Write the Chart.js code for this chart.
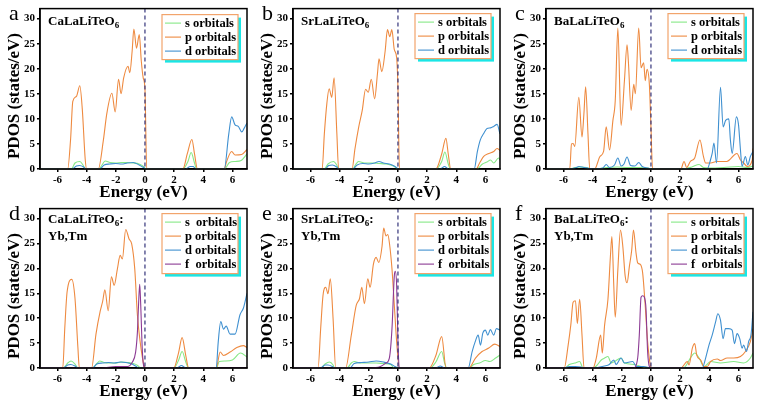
<!DOCTYPE html>
<html>
<head>
<meta charset="utf-8">
<script src="https://cdn.jsdelivr.net/npm/chart.js@4/dist/chart.umd.min.js"></script>
<style>
  body { margin: 0; background: #fff; }
  #wrap { position: relative; width: 759px; height: 405px; overflow: hidden; background: #fff; }
  canvas { position: absolute; }
</style>
</head>
<body>
<div id="wrap">
  <canvas id="pa" width="253" height="205" style="left:0;top:0"></canvas>
  <canvas id="pb" width="253" height="205" style="left:253px;top:0"></canvas>
  <canvas id="pc" width="253" height="205" style="left:506px;top:0"></canvas>
  <canvas id="pd" width="253" height="205" style="left:0;top:200px"></canvas>
  <canvas id="pe" width="253" height="205" style="left:253px;top:200px"></canvas>
  <canvas id="pf" width="253" height="205" style="left:506px;top:200px"></canvas>
</div>
<script>
// axis ticks
const energyTicks = [-6, -4, -2, 0, 2, 4, 6];
const pdosTicks = [0, 5, 10, 15, 20, 25, 30];

// (a) CaLaLiTeO6
const aSx = [-7.2,-5.05,-4.8,-4.47,-4.25,-4.1,-3.15,-2.95,-2.73,-2.4,-2.0,-1.6,-1.2,-0.8,-0.4,-0.1,0.05,2.6,2.95,3.17,3.4,3.55,5.45,5.8,6.2,6.6,7.0];
const aSy = [0,0,1.2,1.5,0.8,0,0,0.8,1.6,1.3,1.2,1.3,1.3,1.2,1.0,0.5,0,0,1.5,3.3,1.2,0,0,1.3,1.5,1.7,3.0];
const aPx = [-7.2,-5.3,-5.1,-4.95,-4.7,-4.47,-4.3,-4.1,-4.0,-3.2,-2.85,-2.62,-2.27,-2.04,-1.81,-1.64,-1.46,-1.16,-1.04,-0.88,-0.76,-0.58,-0.39,-0.25,-0.12,0,0.12,2.6,2.9,3.22,3.4,3.6,5.44,5.6,5.95,6.18,6.64,7.0];
const aPy = [0,0,6,13.5,14.5,16.6,12,2,0,0,5.8,11,15.1,11.4,17.9,15,18.2,20.5,19.2,23.5,27.9,24.1,26.8,21.5,18.2,16,0,0,3,5.9,3,0,0,1.5,3.5,2.8,2.9,3.9];
const aDx = [-7.2,-5.0,-4.7,-4.5,-4.2,-4.05,-3.1,-2.8,-2.4,-2.0,-1.6,-1.2,-0.8,-0.4,-0.1,0.05,2.8,3.1,3.3,3.5,5.44,5.75,5.95,6.18,6.4,6.64,6.8,7.0];
const aDy = [0,0,0.6,0.7,0.4,0,0,0.8,1.0,1.1,1.0,1.2,1.3,0.8,0.3,0,0,0.5,0.5,0,0,7,10.4,8.8,8.5,7.4,8.1,9.2];

// (b) SrLaLiTeO6
const bSx = [-7.2,-5.05,-4.8,-4.42,-4.2,-4.07,-3.1,-2.9,-2.7,-2.3,-1.8,-1.3,-0.8,-0.3,0.0,2.6,3.0,3.22,3.45,3.6,5.4,5.8,6.11,6.35,6.57,6.9,7.0];
const bSy = [0,0,1.0,1.5,0.8,0,0,0.9,1.5,1.2,1.2,1.1,1.0,0.6,0,0,1.5,3.4,1.0,0,0,1.0,1.4,1.8,1.2,2.2,1.8];
const bPx = [-7.2,-5.2,-5.05,-4.88,-4.72,-4.54,-4.38,-4.19,-4.07,-3.15,-2.95,-2.69,-2.45,-2.22,-2.04,-1.83,-1.6,-1.41,-1.3,-1.11,-0.88,-0.72,-0.56,-0.42,-0.25,-0.09,0.0,0.1,2.6,3.0,3.29,3.45,3.62,5.37,5.6,5.88,6.23,6.57,6.8,7.0];
const bPy = [0,0,7,13,16,14.3,18.2,7,0,0,4,8.4,11.7,15.9,15.3,17.9,14,18.9,22,19.4,23.5,27.8,26.4,27.8,23.8,22.2,16,0,0,3,6.1,3,0,0,1.2,2.5,3.1,3.5,4.1,3.7];
const bDx = [-7.2,-5.0,-4.75,-4.5,-4.2,-4.05,-3.1,-2.8,-2.4,-2.0,-1.6,-1.3,-1.0,-0.6,-0.2,0.05,2.9,3.2,3.45,5.23,5.45,5.65,5.88,6.11,6.35,6.57,6.8,7.0];
const bDy = [0,0,0.7,0.8,0.4,0,0,0.8,1.1,1.0,1.2,1.5,1.2,1.0,0.5,0,0,0.5,0,0,3.5,5.8,7.1,8.1,8.2,8.5,8.9,7.0];

// (c) BaLaLiTeO6
const cSx = [-7.2,-5.6,-5.2,-4.9,-4.4,-4.2,-3.9,-3.0,-2.3,-1.6,-0.8,-0.2,0.05,2.1,2.8,3.3,3.6,4.0,5.0,6.0,6.6,7.0];
const cSy = [0,0,0.3,0.4,0.3,0,0,0.3,0.4,0.3,0.3,0.2,0,0,0.4,0.9,0.3,0.2,0.3,0.5,0.3,0.6];
const cPx = [-7.2,-5.57,-5.45,-5.34,-5.23,-4.95,-4.73,-4.6,-4.48,-4.32,-4.2,-3.86,-3.5,-3.25,-3.07,-2.84,-2.61,-2.45,-2.27,-2.05,-1.82,-1.64,-1.55,-1.36,-1.18,-1.07,-0.84,-0.68,-0.5,-0.39,-0.27,-0.11,0,0.11,2.05,2.27,2.45,2.7,3.0,3.36,3.6,3.75,4.1,4.5,5.2,5.9,6.14,6.36,6.6,6.95,7.0];
const cPy = [0,0,5,5.1,4.5,14.3,6.4,11,16.4,7,0,0,2.5,3.5,8.4,3.8,9.7,13.6,28.1,8.7,17.6,24.8,21.5,11.7,16.9,15,28.1,20.2,21.2,17.6,19.9,16.9,8.4,0,0,1.5,0.3,1.5,2.2,5.8,2.5,1.2,1.2,1.5,1.5,3.1,1.8,1.2,0.5,1.8,4.1];
const cDx = [-7.2,-5.55,-5.1,-4.95,-4.6,-4.2,-3.9,-3.3,-3.07,-2.85,-2.5,-2.27,-2.05,-1.85,-1.64,-1.4,-1.1,-0.84,-0.6,-0.2,0.05,3.2,3.86,4.1,4.2,4.32,4.5,4.77,4.95,5.12,5.34,5.45,5.57,5.86,6.0,6.14,6.25,6.48,6.64,6.82,7.0];
const cDy = [0,0,0.3,0.5,0.3,0.1,0,0.2,0.9,0.3,0.8,2.2,0.6,1.0,2.4,0.7,0.6,1.3,0.5,0.2,0,0,0,2.0,3.1,5.2,1.2,16.3,8.4,9.7,10,5.8,3.1,10.4,9,3.8,0.5,2.5,0.8,2.5,3.5];

// (d) CaLaLiTeO6:Yb,Tm
const dSx = [-7.2,-5.6,-5.3,-5.07,-4.8,-4.6,-3.6,-3.3,-3.1,-2.8,-2.4,-2.0,-1.6,-1.2,-0.8,-0.5,-0.3,1.98,2.3,2.55,2.8,3.0,4.9,5.1,5.5,6.0,6.55,7.0];
const dSy = [0,0,1.0,1.4,0.8,0,0,0.9,1.4,1.1,1.0,1.0,1.2,1.1,0.9,0.5,0,0,1.5,3.3,1.2,0,0,1.3,1.4,1.6,3.0,2.2];
const dPx = [-7.2,-5.64,-5.5,-5.34,-5.02,-4.8,-4.6,-4.5,-3.66,-3.36,-3.07,-2.9,-2.75,-2.52,-2.3,-2.11,-1.89,-1.7,-1.55,-1.32,-1.09,-0.91,-0.7,-0.52,-0.34,-0.18,-0.07,0.05,1.98,2.3,2.55,2.8,3.0,4.89,5.16,5.39,5.84,6.3,6.75,7.0];
const dPy = [0,0,8,15.3,17.8,14,4.1,0,0,6.8,11.4,13.4,15.7,11.5,18.3,16.6,19.9,22.6,21.9,27.8,25.9,24.9,19.9,10.7,5.5,2.2,0.5,0,0,3,6.1,2.5,0,0,3.2,2.5,3.2,4.1,4.5,4.1];
const dDx = [-7.2,-5.6,-5.3,-5.1,-4.8,-4.6,-3.6,-3.3,-2.9,-2.5,-2.1,-1.7,-1.3,-0.9,-0.6,-0.4,2.2,2.5,2.8,4.89,5.02,5.2,5.39,5.57,5.84,6.18,6.52,6.75,7.0];
const dDy = [0,0,0.6,0.7,0.4,0,0,0.8,1.0,1.1,1.0,1.2,1.1,0.8,0.3,0,0,0.5,0,0,5,9.3,7.8,8.4,6.8,6.8,10.7,12,15];
const dFx = [-7.2,-3.0,-2.0,-1.2,-0.86,-0.64,-0.52,-0.45,-0.36,-0.3,-0.18,-0.07,0.05,7.0];
const dFy = [0,0,0.3,0.3,1.2,3.2,7.1,12,16.8,13.4,3.5,0.2,0,0];

// (e) SrLaLiTeO6:Yb,Tm
const eSx = [-7.2,-5.3,-5.0,-4.7,-4.45,-4.35,-3.5,-3.2,-3.0,-2.6,-2.0,-1.5,-1.0,-0.5,-0.25,2.2,2.6,3.0,3.2,3.35,4.9,5.2,5.6,6.0,6.3,6.7,7.0];
const eSy = [0,0,0.8,1.2,0.6,0,0,1.0,1.3,1.0,1.0,1.0,0.9,0.7,0,0,1.2,3.3,1.0,0,0,0.7,1.0,1.5,1.3,2.0,2.6];
const ePx = [-7.2,-5.48,-5.3,-5.14,-4.95,-4.8,-4.64,-4.45,-4.27,-3.59,-3.2,-2.86,-2.64,-2.48,-2.3,-2.07,-1.91,-1.68,-1.5,-1.32,-1.09,-0.98,-0.82,-0.7,-0.59,-0.41,-0.25,-0.09,0.09,2.14,2.6,3.0,3.3,4.86,5.32,5.77,6.23,6.64,7.0];
const ePy = [0,0,8,14.6,16.2,14.9,17.9,9.9,0,0,6.6,12.6,13.9,16.2,12.9,17.9,16.2,20.9,22.2,21.2,24.5,28.1,26.5,26.8,25.2,19.9,12.6,5.3,0,0,2.5,6.3,0,0,2.0,3.3,4.0,4.8,4.3];
const eDx = [-7.2,-5.3,-5.0,-4.8,-4.5,-4.35,-3.3,-3.0,-2.5,-2.0,-1.5,-1.0,-0.5,-0.2,0.05,2.6,2.9,3.2,4.82,5.09,5.3,5.5,5.66,5.82,6.0,6.16,6.34,6.57,6.75,7.0];
const eDy = [0,0,0.6,0.6,0.3,0,0,0.9,1.1,1.2,1.4,1.2,0.8,0.3,0,0,0.4,0,0,3.3,5.3,6.6,4.6,7.0,7.6,6.6,7.7,6.6,7.9,7.6];
const eFx = [-7.2,-2.0,-1.2,-0.82,-0.59,-0.41,-0.25,-0.18,-0.09,0.0,0.09,7.0];
const eFy = [0,0,0.3,1.0,2.0,7.9,18.5,19.4,16.6,5.3,0,0];

// (f) BaLaLiTeO6:Yb,Tm
const fSx = [-7.2,-5.9,-5.6,-5.23,-4.89,-4.66,-4.0,-3.75,-3.41,-3.18,-2.95,-2.73,-2.5,-2.05,-1.82,-1.14,-0.68,-0.3,2.2,2.84,3.0,3.3,3.64,4.09,4.77,5.68,6.36,6.82,7.0];
const fSy = [0,0,0.7,1.0,1.3,0,0,0.4,1.6,2.0,2.3,1.0,1.3,2.0,1.0,0.7,0.3,0,0,2.6,3.0,2.0,0.3,1.3,1.0,1.3,1.0,2.0,3.0];
const fPx = [-7.2,-5.95,-5.68,-5.5,-5.34,-5.18,-5.05,-4.89,-4.73,-4.59,-3.98,-3.75,-3.45,-3.34,-3.18,-2.95,-2.77,-2.68,-2.55,-2.45,-2.27,-2.09,-1.93,-1.77,-1.64,-1.48,-1.32,-1.2,-1.02,-0.91,-0.73,-0.57,-0.41,-0.23,-0.05,0.05,2.05,2.5,2.61,2.84,3.0,3.14,3.41,3.64,3.86,4.09,4.55,4.77,5.23,5.68,6.14,6.48,6.82,7.0];
const fPy = [0,0,4.6,8.6,13.2,13.5,8.9,13.8,6.6,0,0,2.0,6.6,3.0,8.6,13.8,23,26.4,16.5,10.2,19.8,27.7,24.4,18.5,17.1,20.4,23.7,27.7,23,21.1,20.8,19.1,13.2,5.3,0.7,0,0,1.3,0.6,4.0,4.9,2.6,1.6,0.3,0.3,1.3,1.8,1.5,2.0,2.0,2.3,3.3,5.3,7.9];
const fDx = [-7.2,-6.0,-5.6,-5.2,-4.8,-4.6,-3.9,-3.2,-2.86,-2.55,-2.39,-2.05,-1.82,-1.25,-1.0,-0.5,0.0,3.52,3.75,3.98,4.2,4.43,4.59,4.77,4.95,5.11,5.34,5.57,5.73,5.91,6.09,6.25,6.36,6.55,6.7,6.86,7.0];
const fDy = [0,0,0.3,0.3,0.2,0,0,0.4,0.7,1.6,0.7,2.0,1.0,1.3,0.3,0.3,0,0,2.0,4.6,6.6,9.2,10.9,9.6,5.9,7.9,7.9,7.6,4.9,6.9,5.9,4.0,4.6,3.3,5.3,6.6,11.3];
const fFx = [-7.2,-1.2,-0.91,-0.8,-0.68,-0.57,-0.45,-0.34,-0.23,-0.11,0,7.0];
const fFy = [0,0,2.0,6.6,14.2,14.5,14.2,11.9,3.3,0.3,0,0];

const serif = "'Liberation Serif', 'Times New Roman', serif";
const colS = "#86e886";
const colP = "#ee8a40";
const colD = "#3f90d0";
const colF = "#8c3a94";

const pts = (xs, ys) => xs.map((x, i) => ({ x: x, y: ys[i] }));

const line = (label, xs, ys, color, order) => ({
  label: label,
  data: pts(xs, ys),
  borderColor: color,
  borderWidth: 1.1,
  pointRadius: 0,
  showLine: true,
  fill: false,
  cubicInterpolationMode: "monotone",
  order: order,
});

// frame, zero line, letters, sample name, legend, y title
const decor = {
  id: "decor",
  afterDatasetsDraw(chart) {
    const { ctx, chartArea: ca } = chart;
    const info = chart.options.plugins.decor;
    const x0 = chart.scales.x.getPixelForValue(0);
    ctx.save();
    ctx.strokeStyle = "#34347a";
    ctx.lineWidth = 1.2;
    ctx.setLineDash([4, 3]);
    ctx.beginPath();
    ctx.moveTo(x0, ca.top);
    ctx.lineTo(x0, ca.bottom);
    ctx.stroke();
    ctx.setLineDash([]);

    ctx.strokeStyle = "#000";
    ctx.lineWidth = 1.5;
    ctx.strokeRect(ca.left, ca.top, ca.right - ca.left, ca.bottom - ca.top);

    // panel letter
    ctx.fillStyle = "#000";
    ctx.font = "22px " + serif;
    ctx.textAlign = "left";
    ctx.textBaseline = "alphabetic";
    ctx.fillText(info.letter, 9, 20);

    // sample name with subscript
    ctx.font = "bold 13px " + serif;
    const nx = ca.left + 8;
    const ny = ca.top + info.nameY;
    ctx.fillText(info.name, nx, ny);
    let w = ctx.measureText(info.name).width;
    ctx.font = "bold 9px " + serif;
    ctx.fillText("6", nx + w, ny + 3);
    w += ctx.measureText("6").width;
    if (info.name2) {
      ctx.font = "bold 13px " + serif;
      ctx.fillText(":", nx + w, ny);
      ctx.fillText(info.name2, nx, ny + 17);
    }

    // legend box
    const labels = info.legend;
    const bw = 76;
    const rowH = 14;
    const bh = labels.length === 3 ? 45 : 60;
    const bx = ca.right - 9 - bw;
    const by = ca.top + info.legY;
    ctx.fillStyle = "#19e6e6";
    ctx.fillRect(bx + 3, by + 3, bw, bh);
    ctx.fillStyle = "#fff";
    ctx.fillRect(bx, by, bw, bh);
    ctx.strokeStyle = "#f2a46c";
    ctx.lineWidth = 1.2;
    ctx.strokeRect(bx, by, bw, bh);
    const cols = [colS, colP, colD, colF];
    ctx.font = "bold 12.5px " + serif;
    ctx.textBaseline = "middle";
    labels.forEach((t, i) => {
      const y = by + 8.5 + i * rowH;
      ctx.strokeStyle = cols[i];
      ctx.lineWidth = 1.1;
      ctx.beginPath();
      ctx.moveTo(bx + 3, y);
      ctx.lineTo(bx + 19, y);
      ctx.stroke();
      ctx.fillStyle = "#000";
      ctx.fillText(t, bx + 23, y + 0.5);
    });

    // y axis title
    ctx.save();
    ctx.translate(15, 96);
    ctx.rotate(-Math.PI / 2);
    ctx.font = "bold 17px " + serif;
    ctx.textAlign = "center";
    ctx.textBaseline = "middle";
    ctx.fillText("PDOS (states/eV)", 0, 0);
    ctx.restore();
    ctx.restore();
  },
};

const tickFont = { family: serif, size: 11, weight: "bold" };

const makeChart = (id, datasets, info) => {
  new Chart(document.getElementById(id), {
    type: "scatter",
    data: { datasets: datasets },
    options: {
      responsive: false,
      animation: false,
      layout: { padding: { top: 5, right: 6, left: 0, bottom: 0 } },
      plugins: {
        legend: { display: false },
        tooltip: { enabled: false },
        decor: info,
      },
      scales: {
        x: {
          type: "linear",
          min: -7.2,
          max: 7,
          afterBuildTicks: (s) => {
            s.ticks = energyTicks.map((v) => ({ value: v }));
          },
          afterFit: (s) => {
            s.height = info.xh;
          },
          ticks: { font: tickFont, color: "#000", padding: 2, maxRotation: 0, autoSkip: false },
          grid: { drawOnChartArea: false, tickLength: 3, color: "#000", lineWidth: 1.5 },
          border: { color: "#000", width: 1.5 },
          title: {
            display: true,
            text: "Energy (eV)",
            color: "#000",
            font: { family: serif, size: 17, weight: "bold" },
            padding: { top: 0, bottom: info.tb },
          },
        },
        y: {
          type: "linear",
          min: 0,
          max: 32,
          afterBuildTicks: (s) => {
            s.ticks = pdosTicks.map((v) => ({ value: v }));
          },
          afterFit: (s) => {
            s.width = 40;
          },
          ticks: { font: tickFont, color: "#000", padding: 2 },
          grid: { drawOnChartArea: false, tickLength: 3, color: "#000", lineWidth: 1.5 },
          border: { color: "#000", width: 1.5 },
        },
      },
    },
    plugins: [decor],
  });
};

const top3 = ["s orbitals", "p orbitals", "d orbitals"];
const bot4 = ["s orbitals", "p orbitals", "d orbitals", "f  orbitals"];

makeChart("pa", [
  line("s", aSx, aSy, colS, 4), line("p", aPx, aPy, colP, 3), line("d", aDx, aDy, colD, 2),
], { letter: "a", name: "CaLaLiTeO", nameY: 16.5, legend: top3, legY: 6, xh: 36, tb: 2 });

makeChart("pb", [
  line("s", bSx, bSy, colS, 4), line("p", bPx, bPy, colP, 3), line("d", bDx, bDy, colD, 2),
], { letter: "b", name: "SrLaLiTeO", nameY: 16.5, legend: top3, legY: 5, xh: 36, tb: 2 });

makeChart("pc", [
  line("s", cSx, cSy, colS, 4), line("p", cPx, cPy, colP, 3), line("d", cDx, cDy, colD, 2),
], { letter: "c", name: "BaLaLiTeO", nameY: 16.5, legend: top3, legY: 5, xh: 36, tb: 2 });

makeChart("pd", [
  line("s", dSx, dSy, colS, 4), line("p", dPx, dPy, colP, 3), line("d", dDx, dDy, colD, 2), line("f", dFx, dFy, colF, 1),
], { letter: "d", name: "CaLaLiTeO", name2: "Yb,Tm", nameY: 14, legend: ["s  orbitals", "p orbitals", "d orbitals", "f  orbitals"], legY: 5, xh: 37, tb: 3 });

makeChart("pe", [
  line("s", eSx, eSy, colS, 4), line("p", ePx, ePy, colP, 3), line("d", eDx, eDy, colD, 2), line("f", eFx, eFy, colF, 1),
], { letter: "e", name: "SrLaLiTeO", name2: "Yb,Tm", nameY: 14, legend: bot4, legY: 5, xh: 37, tb: 3 });

makeChart("pf", [
  line("s", fSx, fSy, colS, 4), line("p", fPx, fPy, colP, 3), line("d", fDx, fDy, colD, 2), line("f", fFx, fFy, colF, 1),
], { letter: "f", name: "BaLaLiTeO", name2: "Yb,Tm", nameY: 14, legend: bot4, legY: 5, xh: 37, tb: 3 });
</script>
</body>
</html>
